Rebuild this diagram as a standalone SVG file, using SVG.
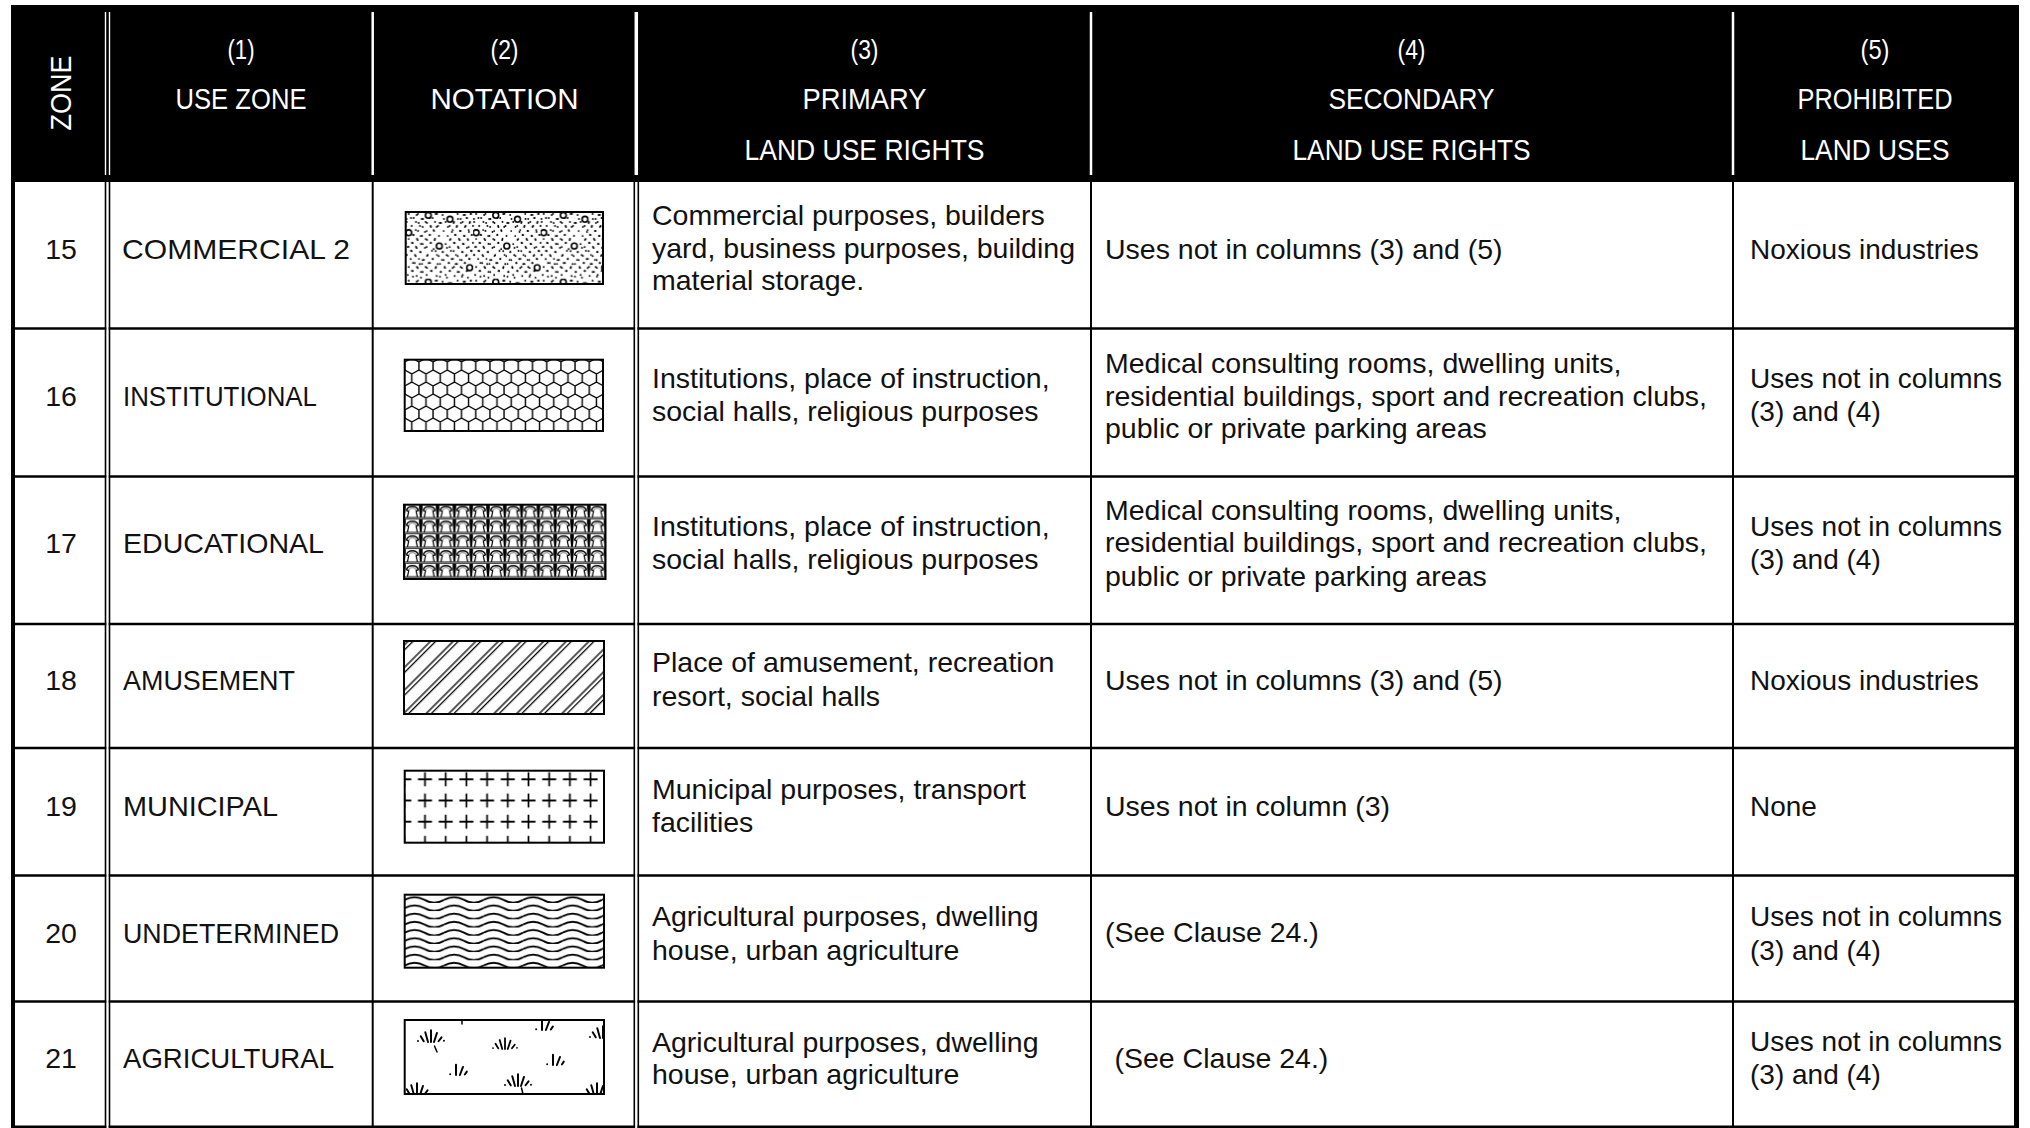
<svg xmlns="http://www.w3.org/2000/svg" width="2030" height="1128" viewBox="0 0 2030 1128">
<style>
.hd{font-family:"Liberation Sans",Arial,sans-serif;font-size:29.5px;fill:#fff;text-anchor:middle}
.hp{font-size:28px}
.tx{font-family:"Liberation Sans",Arial,sans-serif;font-size:28.5px;fill:#111}
.c5{font-size:28px}
.mid{text-anchor:middle}
.box{stroke:#000;stroke-width:2}
.hl{stroke:#000;stroke-width:2.5}
.vl{stroke:#000;stroke-width:2}
.vd{stroke:#000;stroke-width:1.6}
.wl{stroke:#fff;stroke-width:2.5}
.wd{stroke:#fff;stroke-width:1.4}
.tf{fill:none;stroke:#000;stroke-width:1.5;stroke-linecap:round}
</style>
<defs>
<path id="dots" fill="none" stroke="#000" stroke-width="1.9" stroke-linecap="round" d="M3 2h0M11 3h0M30 2h0M37 3h0M52 2h0M58 3h0M65 2h0M8 6h0M16 7h0M27 6h0M55 7h0M61 6h0M1 10h0M13 11h0M20 10h0M34 11h0M40 10h0M48 11h0M57 10h0M64 11h0M6 14h0M17 15h0M25 14h0M31 15h0M44 14h0M51 15h0M60 14h0M10 18h0M21 19h0M28 18h0M38 19h0M47 18h0M55 19h0M63 18h0M8 23h0M15 24h0M24 23h0M42 24h0M50 23h0M59 24h0M66 23h0M3 27h0M12 28h0M20 27h0M29 28h0M45 27h0M54 28h0M62 27h0M7 31h0M17 32h0M25 31h0M40 32h0M49 31h0M58 32h0M2 35h0M11 36h0M21 35h0M28 37h0M44 35h0M53 36h0M63 35h0M6 39h0M15 40h0M30 39h0M37 40h0M48 39h0M57 40h0M66 39h0M1 43h0M10 44h0M22 43h0M33 44h0M41 43h0M52 44h0M61 43h0M5 47h0M17 48h0M27 47h0M38 48h0M46 47h0M56 48h0M64 47h0M9 51h0M14 52h0M23 51h0M32 52h0M43 51h0M50 52h0M59 51h0M3 55h0M12 56h0M20 55h0M30 56h0M39 55h0M47 56h0M55 55h0M7 59h0M17 60h0M26 59h0M35 60h0M44 59h0M52 60h0M61 59h0M2 63h0M11 64h0M21 63h0M31 64h0M40 63h0M49 64h0M57 63h0"/>
<pattern id="pStip" patternUnits="userSpaceOnUse" x="405.7" y="212" width="67.5" height="66.7">
<use href="#dots"/>
<use href="#dots" transform="translate(4.3,-4.1)"/>
<use href="#dots" transform="translate(-63.2,-4.1)"/>
<use href="#dots" transform="translate(4.3,62.6)"/>
<g fill="#fff" stroke="#000" stroke-width="1.6"><circle cx="22.6" cy="3.3" r="2.9"/><circle cx="44.3" cy="7.3" r="2.9"/><circle cx="3" cy="20.7" r="2.9"/><circle cx="33.6" cy="34" r="2.9"/><circle cx="64" cy="55.7" r="2.9"/></g>
</pattern>
<pattern id="pHex" patternUnits="userSpaceOnUse" x="404.7" y="354" width="14.2" height="24">
<path fill="none" stroke="#000" stroke-width="1.4" d="M7.1,0V4L0,8V16L7.1,20V24M7.1,4L14.2,8V16L7.1,20"/>
</pattern>
<pattern id="pEdu" patternUnits="userSpaceOnUse" x="404" y="504.7" width="16.8" height="14.8">
<rect width="16.8" height="14.8" fill="#fff"/>
<path fill="#000" d="M-1.8,0H1.8V3.5L0.9,12.6H-0.9L-1.8,3.5Z M15,0H18.6V3.5L17.7,12.6H15.9L15,3.5Z"/>
<path fill="none" stroke="#000" stroke-width="1.5" d="M2.6,6.2C2.6,0.2 14.2,0.2 14.2,6.2"/>
<path fill="none" stroke="#666" stroke-width="0.9" d="M4.8,6.2C4.8,2.8 12,2.8 12,6.2"/>
<path fill="none" stroke="#000" stroke-width="1.2" d="M4.8,6.2L3.4,12.6M12,6.2L13.4,12.6M2.6,6.2H4.8M12,6.2H14.2"/>
<path stroke="#000" stroke-width="1" d="M0,12.9H16.8M0,14.5H16.8"/>
</pattern>
<pattern id="pHatch" patternUnits="userSpaceOnUse" x="404" y="641" width="16" height="16" patternTransform="rotate(45 404 641)">
<path stroke="#000" stroke-width="1.3" d="M3,-1V17M6.6,-1V17"/>
</pattern>
<pattern id="pCross" patternUnits="userSpaceOnUse" x="393.95" y="768.7" width="20.7" height="21.2">
<path stroke="#000" stroke-width="1.7" d="M3.35,10.6H17.35M10.35,3.6V17.6"/>
</pattern>
<pattern id="pWave" patternUnits="userSpaceOnUse" x="404.7" y="894.7" width="39.5" height="8.2">
<path fill="none" stroke="#000" stroke-width="1.8" d="M0,5.2Q9.9,-0.4 19.75,5.2T39.5,5.2"/>
</pattern>
<clipPath id="cAgr"><rect x="404.7" y="1020" width="199" height="74"/></clipPath>
<g id="tuft"><path class="tf" d="M0,0V-9M-2.3,0L-4.4,-7.5M2.3,0L4.6,-7M-5.6,-0.5L-7.9,-4.4M5.8,-0.6L8.1,-3.6M-10,-0.8h0M10,-1h0"/></g>
<g id="tuftS"><path class="tf" d="M0,0V-8M3,0L5.4,-6.2M6.8,-0.4L8.3,-2.6M-4.5,-0.6h0"/></g>
</defs>
<rect width="2030" height="1128" fill="#fff"/>
<g id="header">
<rect x="11" y="5" width="2008" height="177" fill="#000"/>
<g id="header-separators">
<line class="wd" x1="105.5" y1="12" x2="105.5" y2="175"/>
<line class="wd" x1="109.5" y1="12" x2="109.5" y2="175"/>
<line class="wl" x1="372.7" y1="12" x2="372.7" y2="175"/>
<line class="wl" x1="636.3" y1="12" x2="636.3" y2="175" style="stroke-width:3.5"/>
<line class="wl" x1="1091" y1="12" x2="1091" y2="175"/>
<line class="wl" x1="1733" y1="12" x2="1733" y2="175"/>
</g>
<text class="hd" transform="translate(71,93) rotate(-90)" textLength="75" lengthAdjust="spacingAndGlyphs">ZONE</text>
<text class="hd hp" x="241" y="59" textLength="27" lengthAdjust="spacingAndGlyphs">(1)</text>
<text class="hd" x="241" y="109" textLength="131" lengthAdjust="spacingAndGlyphs">USE ZONE</text>
<text class="hd hp" x="504.5" y="59" textLength="28" lengthAdjust="spacingAndGlyphs">(2)</text>
<text class="hd" x="504.5" y="109" textLength="148" lengthAdjust="spacingAndGlyphs">NOTATION</text>
<text class="hd hp" x="864.5" y="59" textLength="28" lengthAdjust="spacingAndGlyphs">(3)</text>
<text class="hd" x="864.5" y="109" textLength="124" lengthAdjust="spacingAndGlyphs">PRIMARY</text>
<text class="hd" x="864.5" y="160" textLength="240" lengthAdjust="spacingAndGlyphs">LAND USE RIGHTS</text>
<text class="hd hp" x="1411.5" y="59" textLength="28" lengthAdjust="spacingAndGlyphs">(4)</text>
<text class="hd" x="1411.5" y="109" textLength="166" lengthAdjust="spacingAndGlyphs">SECONDARY</text>
<text class="hd" x="1411.5" y="160" textLength="238" lengthAdjust="spacingAndGlyphs">LAND USE RIGHTS</text>
<text class="hd hp" x="1875" y="59" textLength="29" lengthAdjust="spacingAndGlyphs">(5)</text>
<text class="hd" x="1875" y="109" textLength="155" lengthAdjust="spacingAndGlyphs">PROHIBITED</text>
<text class="hd" x="1875" y="160" textLength="149" lengthAdjust="spacingAndGlyphs">LAND USES</text>
</g>
<g id="grid">
<line class="hl" x1="15" y1="328.5" x2="2014" y2="328.5"/>
<line class="hl" x1="15" y1="476.5" x2="2014" y2="476.5"/>
<line class="hl" x1="15" y1="624" x2="2014" y2="624"/>
<line class="hl" x1="15" y1="748" x2="2014" y2="748"/>
<line class="hl" x1="15" y1="875.5" x2="2014" y2="875.5"/>
<line class="hl" x1="15" y1="1001.5" x2="2014" y2="1001.5"/>
<line class="hl" x1="15" y1="1126.8" x2="2014" y2="1126.8"/>
<rect x="106.3" y="182" width="2.4" height="946" fill="#fff"/>
<rect x="635.1" y="182" width="2.4" height="946" fill="#fff"/>
<line class="vd" x1="105.5" y1="182" x2="105.5" y2="1128"/>
<line class="vd" x1="109.5" y1="182" x2="109.5" y2="1128"/>
<line class="vl" x1="372.7" y1="182" x2="372.7" y2="1128"/>
<line class="vd" x1="634.3" y1="182" x2="634.3" y2="1128"/>
<line class="vd" x1="638.3" y1="182" x2="638.3" y2="1128"/>
<line class="vl" x1="1091" y1="182" x2="1091" y2="1128"/>
<line class="vl" x1="1733" y1="182" x2="1733" y2="1128"/>
<rect x="11" y="5" width="4" height="1123" fill="#000"/>
<rect x="2014" y="5" width="5" height="1123" fill="#000"/>
</g>
<g id="row-15">
<text class="tx mid" x="61" y="259">15</text>
<text class="tx" x="122" y="259" textLength="228" lengthAdjust="spacingAndGlyphs">COMMERCIAL 2</text>
<rect class="box" x="405.7" y="212" width="197.3" height="72" fill="url(#pStip)"/>
<text class="tx" x="652" y="225">Commercial purposes, builders</text>
<text class="tx" x="652" y="257.5">yard, business purposes, building</text>
<text class="tx" x="652" y="290">material storage.</text>
<text class="tx" x="1105" y="258.5">Uses not in columns (3) and (5)</text>
<text class="tx c5" x="1750" y="258.5">Noxious industries</text>
</g>
<g id="row-16">
<text class="tx mid" x="61" y="405.5">16</text>
<text class="tx" x="123" y="405.5" textLength="194" lengthAdjust="spacingAndGlyphs">INSTITUTIONAL</text>
<rect class="box" x="404.7" y="359.7" width="198.3" height="71.3" fill="url(#pHex)"/>
<text class="tx" x="652" y="388">Institutions, place of instruction,</text>
<text class="tx" x="652" y="421">social halls, religious purposes</text>
<text class="tx" x="1105" y="373">Medical consulting rooms, dwelling units,</text>
<text class="tx" x="1105" y="405.5">residential buildings, sport and recreation clubs,</text>
<text class="tx" x="1105" y="438">public or private parking areas</text>
<text class="tx c5" x="1750" y="388">Uses not in columns</text>
<text class="tx c5" x="1750" y="421">(3) and (4)</text>
</g>
<g id="row-17">
<text class="tx mid" x="61" y="553">17</text>
<text class="tx" x="123" y="553" textLength="201" lengthAdjust="spacingAndGlyphs">EDUCATIONAL</text>
<rect class="box" x="404" y="504.7" width="201.5" height="74.3" fill="url(#pEdu)"/>
<text class="tx" x="652" y="536">Institutions, place of instruction,</text>
<text class="tx" x="652" y="568.5">social halls, religious purposes</text>
<text class="tx" x="1105" y="519.5">Medical consulting rooms, dwelling units,</text>
<text class="tx" x="1105" y="552">residential buildings, sport and recreation clubs,</text>
<text class="tx" x="1105" y="585.5">public or private parking areas</text>
<text class="tx c5" x="1750" y="536">Uses not in columns</text>
<text class="tx c5" x="1750" y="568.5">(3) and (4)</text>
</g>
<g id="row-18">
<text class="tx mid" x="61" y="690">18</text>
<text class="tx" x="123" y="690" textLength="172" lengthAdjust="spacingAndGlyphs">AMUSEMENT</text>
<rect class="box" x="404" y="641" width="200" height="73" fill="url(#pHatch)"/>
<text class="tx" x="652" y="672">Place of amusement, recreation</text>
<text class="tx" x="652" y="705.5">resort, social halls</text>
<text class="tx" x="1105" y="689.5">Uses not in columns (3) and (5)</text>
<text class="tx c5" x="1750" y="689.5">Noxious industries</text>
</g>
<g id="row-19">
<text class="tx mid" x="61" y="816">19</text>
<text class="tx" x="123" y="816" textLength="155" lengthAdjust="spacingAndGlyphs">MUNICIPAL</text>
<rect class="box" x="404.7" y="770.7" width="199.3" height="72" fill="url(#pCross)"/>
<text class="tx" x="652" y="799">Municipal purposes, transport</text>
<text class="tx" x="652" y="831.5">facilities</text>
<text class="tx" x="1105" y="816">Uses not in column (3)</text>
<text class="tx c5" x="1750" y="816">None</text>
</g>
<g id="row-20">
<text class="tx mid" x="61" y="942.5">20</text>
<text class="tx" x="123" y="942.5" textLength="216" lengthAdjust="spacingAndGlyphs">UNDETERMINED</text>
<rect class="box" x="404.7" y="894.7" width="199.3" height="73" fill="url(#pWave)"/>
<text class="tx" x="652" y="926">Agricultural purposes, dwelling</text>
<text class="tx" x="652" y="959.5">house, urban agriculture</text>
<text class="tx" x="1105" y="942">(See Clause 24.)</text>
<text class="tx c5" x="1750" y="926">Uses not in columns</text>
<text class="tx c5" x="1750" y="959.5">(3) and (4)</text>
</g>
<g id="row-21">
<text class="tx mid" x="61" y="1068">21</text>
<text class="tx" x="123" y="1068" textLength="211" lengthAdjust="spacingAndGlyphs">AGRICULTURAL</text>
<rect x="404.7" y="1020" width="199.3" height="74" fill="#fff"/>
<g clip-path="url(#cAgr)">
<use href="#tuft" transform="translate(431,1042) scale(1.3)"/>
<path class="tf" d="M434.5,1046L437,1052"/>
<use href="#tuftS" transform="translate(542,1030) scale(1.3)"/>
<use href="#tuft" transform="translate(603,1038) scale(1.3)"/>
<use href="#tuft" transform="translate(505,1049) scale(1.2)"/>
<use href="#tuftS" transform="translate(553,1065) scale(1.3)"/>
<use href="#tuftS" transform="translate(456,1075) scale(1.3)"/>
<use href="#tuft" transform="translate(518,1086) scale(1.3)"/>
<use href="#tuft" transform="translate(417,1095) scale(1.3)"/>
<use href="#tuft" transform="translate(597,1095) scale(1.3)"/>
<path class="tf" d="M462,1020V1024M521.5,1088L523,1094"/>
</g>
<rect class="box" x="404.7" y="1020" width="199.3" height="74" fill="none"/>
<text class="tx" x="652" y="1051.5">Agricultural purposes, dwelling</text>
<text class="tx" x="652" y="1084">house, urban agriculture</text>
<text class="tx" x="1114.5" y="1068">(See Clause 24.)</text>
<text class="tx c5" x="1750" y="1051">Uses not in columns</text>
<text class="tx c5" x="1750" y="1084">(3) and (4)</text>
</g>
</svg>
